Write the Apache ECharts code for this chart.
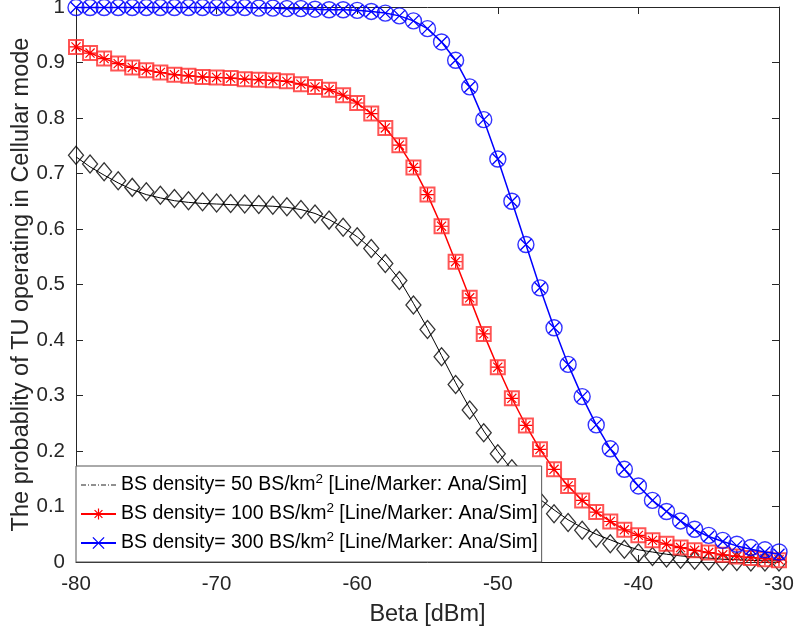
<!DOCTYPE html>
<html><head><meta charset="utf-8">
<script src="https://cdn.jsdelivr.net/npm/echarts@6/dist/echarts.min.js"></script>
<style>html,body{margin:0;padding:0;background:#fff}#c{width:798px;height:635px}</style>
</head><body><div id="c"></div>
<script>
const beta = [-80,-79,-78,-77,-76,-75,-74,-73,-72,-71,-70,-69,-68,-67,-66,-65,-64,-63,-62,-61,-60,-59,-58,-57,-56,-55,-54,-53,-52,-51,-50,-49,-48,-47,-46,-45,-44,-43,-42,-41,-40,-39,-38,-37,-36,-35,-34,-33,-32,-31,-30];

const blackSim = [0.733,0.717,0.703,0.687,0.675,0.667,0.661,0.655,0.651,0.649,
 0.647,0.646,0.645,0.644,0.643,0.640,0.635,0.627,0.616,0.603,
 0.586,0.565,0.538,0.507,0.463,0.419,0.370,0.320,0.274,0.233,
 0.195,0.168,0.138,0.110,0.087,0.071,0.057,0.043,0.033,0.023,
 0.016,0.010,0.007,0.005,0.003,0.002,0.001,0.001,0.000,0.000,0.000];
const blackAna = [0.730,0.712,0.697,0.683,0.671,0.662,0.656,0.651,0.648,0.646,
 0.645,0.644,0.643,0.642,0.641,0.639,0.635,0.628,0.617,0.603,
 0.586,0.565,0.540,0.509,0.466,0.421,0.372,0.323,0.277,0.236,
 0.199,0.166,0.138,0.113,0.094,0.076,0.062,0.050,0.040,0.030,
 0.022,0.018,0.014,0.011,0.009,0.007,0.005,0.004,0.003,0.002,0.002];
const redSim = [0.928,0.917,0.907,0.898,0.891,0.886,0.882,0.878,0.876,0.874,
 0.873,0.872,0.870,0.869,0.868,0.866,0.861,0.856,0.851,0.841,
 0.827,0.808,0.782,0.751,0.711,0.662,0.605,0.541,0.476,0.411,
 0.351,0.295,0.246,0.203,0.167,0.137,0.111,0.090,0.073,0.058,
 0.048,0.039,0.033,0.026,0.021,0.017,0.013,0.010,0.007,0.005,0.003];
const redAna = [0.928,0.917,0.907,0.898,0.891,0.886,0.882,0.878,0.876,0.874,
 0.873,0.872,0.870,0.869,0.868,0.866,0.861,0.856,0.851,0.841,
 0.827,0.808,0.782,0.751,0.711,0.662,0.605,0.541,0.476,0.411,
 0.351,0.295,0.246,0.203,0.167,0.137,0.111,0.090,0.073,0.058,
 0.048,0.039,0.032,0.026,0.021,0.017,0.013,0.010,0.008,0.006,0.004];
const blueSim = [0.999,0.999,0.999,0.999,0.999,0.999,0.999,0.999,0.999,0.999,
 0.999,0.999,0.999,0.998,0.998,0.997,0.997,0.996,0.995,0.995,
 0.994,0.992,0.989,0.984,0.975,0.961,0.937,0.904,0.856,0.797,
 0.726,0.650,0.572,0.494,0.422,0.356,0.298,0.247,0.204,0.167,
 0.137,0.111,0.091,0.074,0.059,0.048,0.039,0.032,0.026,0.022,0.018];
const blueAna = [0.999,0.999,0.999,0.999,0.999,0.999,0.999,0.999,0.999,0.999,
 0.999,0.999,0.999,0.998,0.998,0.997,0.997,0.996,0.995,0.995,
 0.994,0.992,0.989,0.984,0.975,0.961,0.937,0.904,0.856,0.797,
 0.726,0.650,0.572,0.494,0.422,0.356,0.298,0.247,0.204,0.167,
 0.137,0.111,0.091,0.074,0.058,0.046,0.037,0.029,0.023,0.018,0.014];

const legendNames = [
  'BS density= 50 BS/km2 [Line/Marker: Ana/Sim]',
  'BS density= 100 BS/km2 [Line/Marker: Ana/Sim]',
  'BS density= 300 BS/km2 [Line/Marker: Ana/Sim]'
];
const xTitle = 'Beta [dBm]';
const yTitle = 'The probablity of TU operating in Cellular mode';

const FONT = "'Liberation Sans', Arial, Helvetica, sans-serif";
const AX = '#262626';
const pairs = ys => beta.map((x, i) => [x, ys[i]]);
const ASTER = 'path://M0,5L10,5M5,0L5,10M1.5,1.5L8.5,8.5M8.5,1.5L1.5,8.5';
const XMARK = 'path://M0,0L10,10M10,0L0,10';

const chart = echarts.init(document.getElementById('c'), null, {renderer: 'canvas'});
const axisCommon = {
  axisLine: {show: true, onZero: false, lineStyle: {color: AX, width: 1}},
  axisTick: {show: true, inside: true, length: 7, lineStyle: {color: AX, width: 1}},
  splitLine: {show: false}
};
chart.setOption({
  animation: false,
  backgroundColor: '#fff',
  grid: {left: 76, right: 19, top: 7, bottom: 73, containLabel: false, outerBoundsMode: 'none'},
  xAxis: [
    Object.assign({type: 'value', min: -80, max: -30, interval: 10, position: 'bottom',
      name: xTitle, nameLocation: 'middle', nameGap: 41, nameMoveOverlap: false,
      nameTextStyle: {fontFamily: FONT, fontSize: 23.5, color: AX},
      axisLabel: {fontFamily: FONT, fontSize: 20.5, color: AX, margin: 12}}, axisCommon),
    Object.assign({type: 'value', min: -80, max: -30, interval: 10, position: 'top',
      axisLabel: {show: false}}, axisCommon)
  ],
  yAxis: [
    Object.assign({type: 'value', min: 0, max: 1, interval: 0.1, position: 'left',
      name: yTitle, nameLocation: 'middle', nameGap: 42, nameMoveOverlap: false,
      nameTextStyle: {fontFamily: FONT, fontSize: 23.5, color: AX},
      axisLabel: {fontFamily: FONT, fontSize: 20.5, color: AX, margin: 11}}, axisCommon),
    Object.assign({type: 'value', min: 0, max: 1, interval: 0.1, position: 'right',
      axisLabel: {show: false}}, axisCommon)
  ],
  legend: {
    orient: 'vertical', left: 76, top: 466, padding: [6, 4, 6, 4], itemGap: 3,
    itemWidth: 35, itemHeight: 14, backgroundColor: '#fff', borderColor: '#555', borderWidth: 1,
    selectedMode: false,
    textStyle: {fontFamily: FONT, fontSize: 19.5, color: '#000', lineHeight: 26,
      rich: {sup: {fontFamily: FONT, fontSize: 13.5, color: '#000', lineHeight: 13, verticalAlign: 'top'}}},
    formatter: n => n.replace('km2', 'km{sup|2}'),
    data: [
      {name: legendNames[0], itemStyle: {color: 'rgba(0,0,0,0)', borderColor: 'rgba(0,0,0,0)', borderWidth: 0},
        lineStyle: {color: '#222', width: 1, type: [5, 2, 1, 2]}},
      {name: legendNames[1], itemStyle: {color: 'rgba(255,0,0,0)', borderColor: '#ff0000', borderWidth: 1.2}},
      {name: legendNames[2], itemStyle: {color: 'rgba(0,0,255,0)', borderColor: '#0000ff', borderWidth: 1.3}}
    ]
  },
  series: [
    {name: legendNames[0], type: 'line', data: pairs(blackAna), symbol: 'none', showSymbol: false,
      lineStyle: {color: '#000', width: 1}, itemStyle: {color: '#000'}, clip: false, silent: true, z: 2},
    {name: 'sim50', type: 'scatter', data: pairs(blackSim), symbol: 'diamond', symbolSize: [15, 18],
      itemStyle: {color: 'rgba(0,0,0,0)', borderColor: '#000', borderWidth: 1.3}, clip: false, silent: true, z: 3},
    {name: legendNames[1], type: 'line', data: pairs(redAna), symbol: ASTER, symbolSize: 13, showSymbol: true,
      lineStyle: {color: '#ff0000', width: 1.5}, itemStyle: {color: 'rgba(255,0,0,0)', borderColor: '#ff0000', borderWidth: 1.2},
      clip: false, silent: true, z: 4},
    {name: 'sim100', type: 'scatter', data: pairs(redSim), symbol: 'rect', symbolSize: 14,
      itemStyle: {color: 'rgba(255,0,0,0)', borderColor: '#ff2a2a', borderWidth: 2}, clip: false, silent: true, z: 5},
    {name: legendNames[2], type: 'line', data: pairs(blueAna), symbol: XMARK, symbolSize: 11, showSymbol: true,
      lineStyle: {color: '#0000ff', width: 1.5}, itemStyle: {color: 'rgba(0,0,255,0)', borderColor: '#0000ff', borderWidth: 1.3},
      clip: false, silent: true, z: 6},
    {name: 'sim300', type: 'scatter', data: pairs(blueSim), symbol: 'circle', symbolSize: 16,
      itemStyle: {color: 'rgba(0,0,255,0)', borderColor: '#0000ff', borderWidth: 1.4}, clip: false, silent: true, z: 7}
  ]
});
</script></body></html>
